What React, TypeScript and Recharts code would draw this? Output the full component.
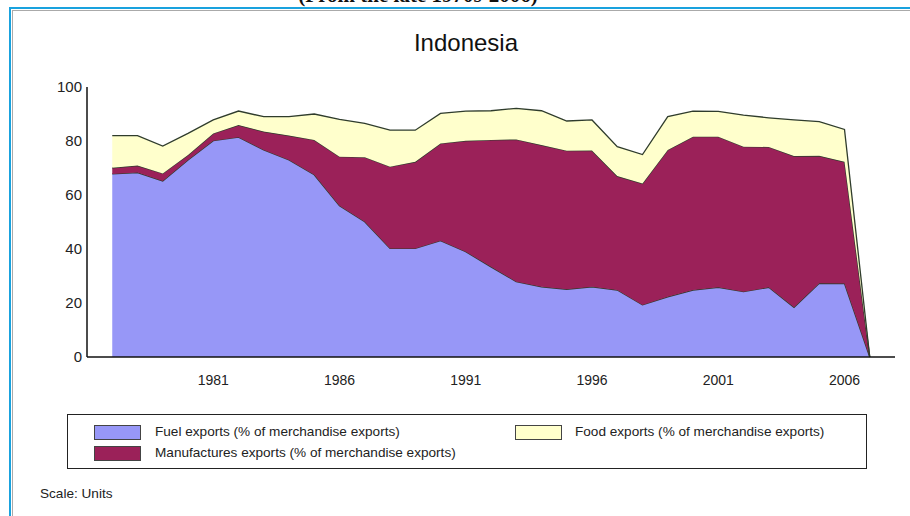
import { AreaChart, Area, XAxis, YAxis } from 'recharts';

// values (% of merchandise exports)
const YEARS = [1977, 1978, 1979, 1980, 1981, 1982, 1983, 1984, 1985, 1986, 1987, 1988, 1989, 1990, 1991, 1992, 1993, 1994, 1995, 1996, 1997, 1998, 1999, 2000, 2001, 2002, 2003, 2004, 2005, 2006, 2007];
const FUEL = [67.8, 68.3, 65.2, 73.0, 80.1, 81.4, 76.7, 73.0, 67.5, 56.0, 50.1, 40.2, 40.2, 43.1, 39.0, 33.4, 27.9, 26.0, 25.1, 26.0, 24.8, 19.3, 22.3, 24.8, 25.8, 24.2, 25.8, 18.4, 27.3, 27.2, 0];
const MANUFACTURES = [2.3, 2.6, 2.8, 1.8, 2.7, 4.5, 6.8, 9.0, 12.9, 18.2, 23.9, 30.3, 32.1, 36.0, 41.1, 47.0, 52.7, 52.5, 51.3, 50.5, 42.2, 45.0, 54.4, 56.8, 55.8, 53.7, 52.0, 56.0, 47.2, 45.1, 0];
const FOOD = [11.9, 11.1, 10.1, 8.0, 5.0, 5.2, 5.5, 7.0, 9.6, 13.8, 12.5, 13.5, 11.7, 11.1, 11.0, 10.8, 11.5, 12.7, 11.0, 11.3, 10.9, 10.7, 12.3, 9.5, 9.4, 11.7, 10.8, 13.4, 12.7, 12.0, 0];

const X_TICKS = [1981, 1986, 1991, 1996, 2001, 2006];
const Y_TICKS = [0, 20, 40, 60, 80, 100];

const FUEL_COLOR = '#9797f7';
const MANUF_COLOR = '#9b2159';
const FOOD_COLOR = '#ffffcc';
const EDGE = '#2f3c2c';

const data = YEARS.map((year, i) => ({ year, fuel: FUEL[i], manuf: MANUFACTURES[i], food: FOOD[i] }));

const font = '"Liberation Sans", Arial, sans-serif';

function Swatch({ color, x, y }: { color: string; x: number; y: number }) {
    return <div style={{ position: 'absolute', left: x, top: y, width: 45, height: 13, background: color, border: '1px solid #444' }} />;
}

function LegendText({ text, x, y }: { text: string; x: number; y: number }) {
    return <div style={{ position: 'absolute', left: x, top: y, fontSize: 13.6, color: '#222', whiteSpace: 'nowrap', lineHeight: '16px' }}>{text}</div>;
}

export default function App() {
    return (
        <div style={{ position: 'fixed', left: 0, top: 0, width: 910, height: 516, overflow: 'hidden', background: '#fff', fontFamily: font }}>
            {/* caption above the frame, cut off by the page edge as in the source */}
            <svg width={910} height={8} style={{ position: 'absolute', left: 0, top: 0 }}>
                <text x={418} y={2} textAnchor="middle" fontFamily='"Liberation Serif", serif' fontWeight="bold" fontSize={21} fill="#111">
                    (From the late 1970s-2006)
                </text>
            </svg>
            {/* blue frame */}
            <div style={{ position: 'absolute', left: 9, top: 7, width: 940, height: 540, borderTop: '2px solid #19a2de', borderLeft: '2px solid #19a2de' }} />
            <div style={{ position: 'absolute', left: 12, top: 10, width: 940, height: 540, borderTop: '1px solid #aaa', borderLeft: '1px solid #aaa' }} />

            <div style={{ position: 'absolute', left: 0, top: 29, width: 910, textAlign: 'center', fontSize: 24, color: '#111' }}>
                <span style={{ position: 'relative', left: 11 }}>Indonesia</span>
            </div>

            <div style={{ position: 'absolute', left: 0, top: 0 }}>
                <AreaChart width={910} height={400} data={data} margin={{ top: 87, right: 15, left: 0, bottom: 13 }}>
                    <XAxis
                        type="number"
                        dataKey="year"
                        domain={[1976, 2008]}
                        ticks={X_TICKS}
                        allowDataOverflow
                        tickLine={false}
                        tickSize={0}
                        tickMargin={18}
                        height={30}
                        axisLine={{ stroke: '#111', strokeWidth: 1.5 }}
                        tick={{ fill: '#222', fontSize: 14, fontFamily: font }}
                    />
                    <YAxis
                        domain={[0, 100]}
                        ticks={Y_TICKS}
                        width={87}
                        tickLine={false}
                        tickSize={0}
                        tickMargin={5}
                        axisLine={{ stroke: '#111', strokeWidth: 1.5 }}
                        tick={{ fill: '#222', fontSize: 15, fontFamily: font }}
                    />
                    <Area type="linear" dataKey="fuel" stackId="1" fill={FUEL_COLOR} fillOpacity={1} stroke={EDGE} strokeWidth={1.3} isAnimationActive={false} />
                    <Area type="linear" dataKey="manuf" stackId="1" fill={MANUF_COLOR} fillOpacity={1} stroke={EDGE} strokeWidth={1.3} isAnimationActive={false} />
                    <Area type="linear" dataKey="food" stackId="1" fill={FOOD_COLOR} fillOpacity={1} stroke={EDGE} strokeWidth={1.3} isAnimationActive={false} />
                </AreaChart>
            </div>

            {/* legend */}
            <div style={{ position: 'absolute', left: 67, top: 414, width: 798, height: 53, border: '1.5px solid #222' }} />
            <Swatch color={FUEL_COLOR} x={94} y={425} />
            <LegendText text="Fuel exports (% of merchandise exports)" x={155} y={424} />
            <Swatch color={MANUF_COLOR} x={94} y={446} />
            <LegendText text="Manufactures exports (% of merchandise exports)" x={155} y={445} />
            <Swatch color={FOOD_COLOR} x={515} y={425} />
            <LegendText text="Food exports (% of merchandise exports)" x={575} y={424} />

            <div style={{ position: 'absolute', left: 40, top: 486, fontSize: 13.6, color: '#222' }}>Scale: Units</div>
        </div>
    );
}
